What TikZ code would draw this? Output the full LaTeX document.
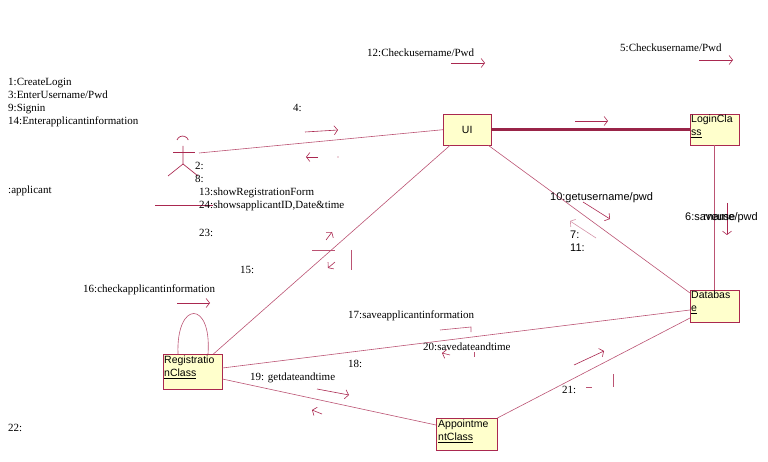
\documentclass[tikz,border=0pt]{standalone}
\usepackage{fontspec}
\setmainfont{Liberation Serif}
\newfontfamily\sansf{Liberation Sans}
\usetikzlibrary{arrows.meta}
\definecolor{lnk}{RGB}{170,40,80}
\definecolor{boxf}{RGB}{255,255,204}
\begin{document}
\begin{tikzpicture}[x=1pt,y=-1pt,
  obj/.style={draw=lnk,fill=boxf,anchor=north west,inner sep=0pt},
  lbl/.style={anchor=west,inner sep=0pt,font=\fontsize{11}{13}\selectfont},
  slbl/.style={anchor=west,inner sep=0pt,font=\sansf\fontsize{11}{13}\selectfont},
  con/.style={draw=lnk!80,line width=0.6pt},
  msg/.style={draw=lnk,line width=0.6pt,-{Straight Barb[length=3.5pt,width=9pt,line width=0.6pt]}},
  btxt/.style={font=\sansf\fontsize{10.5}{13}\selectfont,align=left}]
\useasboundingbox (0,0) rectangle (768,462);
% boxes
\node[obj,minimum width=48pt,minimum height=31pt] (ui) at (443,114) {};
\node[btxt] at (ui.center) {UI};
\node[obj,minimum width=49pt,minimum height=31pt] (login) at (690,114) {};
\node[btxt,anchor=north west,inner sep=1pt] at (690,114) {LoginCla\\\underline{ss}};
\node[obj,minimum width=49pt,minimum height=32pt] (db) at (690,290) {};
\node[btxt,anchor=north west,inner sep=1pt] at (690,290) {Databas\\\underline{e}};
\node[obj,minimum width=59pt,minimum height=35pt] (reg) at (163,354) {};
\node[btxt,anchor=north west,inner sep=1pt] at (163,355) {Registratio\\\underline{nClass}};
\node[obj,minimum width=61pt,minimum height=32pt] (app) at (436,418) {};
\node[btxt,anchor=north west,inner sep=1pt] at (437,419) {Appointme\\\underline{ntClass}};
% actor
\coordinate (act) at (199,153);
\begin{scope}[draw=lnk,line width=0.7pt]
\draw (177,140) arc (200:340:6);
\draw (173,152) -- (195,152);
\draw (183,146) -- (183,164) -- (168,176);
\draw (183,164) -- (198,176);
\draw (155,205) -- (213,205);
\end{scope}
% connectors
\draw[con] (act) -- (ui.west);
\draw[draw=lnk!90!black,line width=3pt] (ui.east) -- (login.west);
\draw[con] ([xshift=7pt]ui.south west) -- ([xshift=-9pt]reg.north east);
\draw[con] ([xshift=-3pt]ui.south east) -- ([yshift=-3pt]db.north west);
\draw[con] (login.south) -- (db.north);
\draw[con] ([yshift=-14pt]reg.north east) -- ([yshift=-20pt]db.north west);
\draw[con] ([yshift=-25pt]reg.north east) -- ([yshift=-7pt]app.north west);
\draw[con] (app.north east) -- ([yshift=-28pt]db.north west);
\draw[con] ([xshift=15pt]reg.north west) .. controls (176,300) and (212,300) .. ([xshift=45pt]reg.north west);
% messages
\draw[msg] (451,63) -- (485,63);
\draw[msg] (699,60) -- (733,60);
\draw[msg] (305,132) -- (338,130);
\draw[msg] (318,157) -- (306,157);
\fill[lnk!40] (338,157) circle (0.8);
\draw[msg] (575,121) -- (608,121);
\draw[msg] (583,202) -- (610,219);
\draw[msg,draw=lnk!50] (596,238) -- (570,221);
\draw[msg] (727,203) -- (727,235);
\draw[msg] (326,240) -- (332,232);
\draw[con] (312,250) -- (335,250);
\draw[msg] (335,262) -- (328,268);
\draw[con] (351,250) -- (351,270);
\draw[msg] (177,303) -- (210,303);
\draw[con] (440,330) -- (471,327) -- (471,332);
\draw[msg] (450,355) -- (442,353);
\draw[con] (474,352) -- (474,357);
\draw[msg] (317,389) -- (349,395);
\draw[msg] (322,414) -- (312,410);
\draw[msg] (574,365) -- (604,351);
\draw[con] (586,387) -- (592,387);
\draw[con] (613,374) -- (613,387);
% labels
\node[lbl] at (367,53) {12:Checkusername/Pwd};
\node[lbl] at (620,48) {5:Checkusername/Pwd};
\node[lbl,align=left,anchor=north west] at (8,78) {1:CreateLogin\\3:EnterUsername/Pwd\\9:Signin\\14:Enterapplicantinformation};
\node[lbl] at (293,108) {4:};
\node[lbl,align=left,anchor=north west] at (195,162) {2:\\8:};
\node[lbl,align=left,anchor=north west] at (199,188) {13:showRegistrationForm\\24:showsapplicantID,Date\&time};
\node[lbl] at (199,233) {23:};
\node[lbl] at (8,191) {:applicant};
\node[lbl] at (240,270) {15:};
\node[lbl] at (83,290) {16:checkapplicantinformation};
\node[lbl] at (348,316) {17:saveapplicantinformation};
\node[lbl] at (423,347) {20:savedateandtime};
\node[lbl] at (348,364) {18:};
\node[lbl] at (250,378) {19: getdateandtime};
\node[lbl] at (562,390) {21:};
\node[lbl] at (8,428) {22:};
\node[slbl] at (550,198) {10:getusername/pwd};
\node[slbl,align=left,anchor=north west] at (570,231) {7:\\11:};
\node[slbl] at (685,217) {6:saveuse};
\node[slbl,anchor=east] at (758,218) {rname/pwd};
\end{tikzpicture}
\end{document}
